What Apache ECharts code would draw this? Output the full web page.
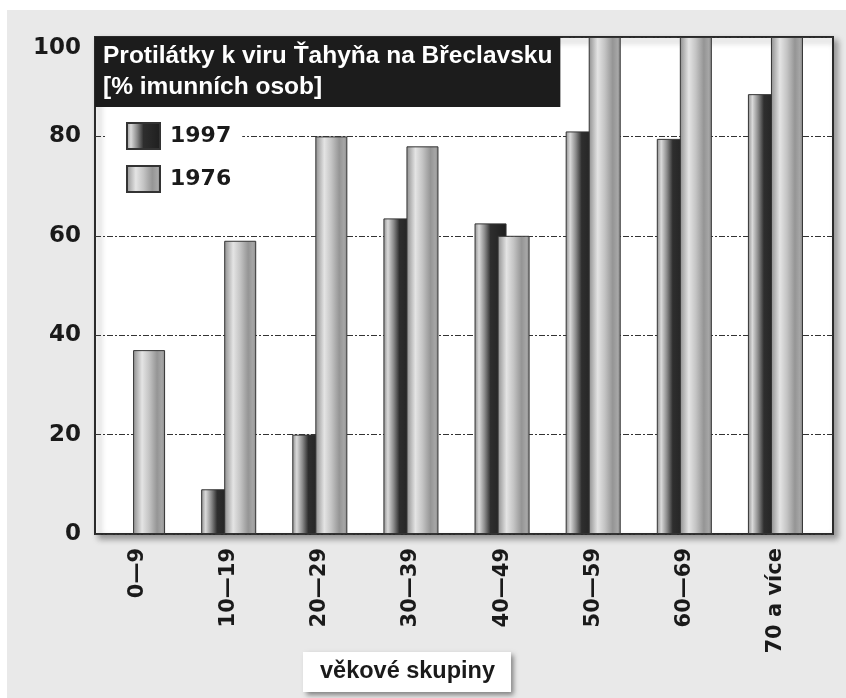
<!DOCTYPE html>
<html>
<head>
<meta charset="utf-8">
<script src="https://cdn.jsdelivr.net/npm/echarts@6/dist/echarts.min.js"></script>
<style>
  html, body { margin: 0; padding: 0; background: #fff; }
  #main { width: 846px; height: 698px; }
</style>
</head>
<body>
<div id="main"></div>
<script>
// data
var skupiny = ['0—9', '10—19', '20—29', '30—39', '40—49', '50—59', '60—69', '70 a více'];
var rok1997 = [null, 9, 20, 63.5, 62.5, 81, 79.5, 88.5];
var rok1976 = [37, 59, 80, 78, 60, 100, 100, 100];
var yTicks = [0, 20, 40, 60, 80, 100];

var narrow = '"Liberation Sans", Arial, sans-serif';
var wide = '"DejaVu Sans", sans-serif';

// horizontal gradients imitating the cylinder look
var svetla = new echarts.graphic.LinearGradient(0, 0, 1, 0, [
    { offset: 0, color: '#8e8e8e' },
    { offset: 0.28, color: '#e4e4e4' },
    { offset: 0.5, color: '#c4c4c4' },
    { offset: 0.75, color: '#959595' },
    { offset: 0.9, color: '#a6a6a6' },
    { offset: 1, color: '#8a8a8a' }
]);
var tmava = new echarts.graphic.LinearGradient(0, 0, 1, 0, [
    { offset: 0, color: '#8c8c8c' },
    { offset: 0.14, color: '#dadada' },
    { offset: 0.32, color: '#8a8a8a' },
    { offset: 0.5, color: '#2e2e2e' },
    { offset: 1, color: '#1e1e1e' }
]);

var myChart = echarts.init(document.getElementById('main'));

var option = {
    backgroundColor: '#fff',
    animation: false,
    graphic: [{
        type: 'rect',
        z: -10,
        shape: { x: 7, y: 10, width: 839, height: 688 },
        style: { fill: '#e9e9e9' }
    }],
    title: [{
        text: 'Protilátky k viru Ťahyňa na Břeclavsku\n[% imunních osob]',
        left: 95,
        top: 37,
        backgroundColor: '#1c1c1c',
        padding: [4, 8, 4, 8],
        textStyle: {
            color: '#fff',
            fontFamily: narrow,
            fontWeight: 'bold',
            fontSize: 24.5,
            lineHeight: 31
        }
    }, {
        text: 'věkové skupiny',
        left: 303,
        top: 652,
        backgroundColor: '#fff',
        padding: [8, 16, 8, 17],
        shadowColor: 'rgba(0,0,0,0.45)',
        shadowBlur: 5,
        shadowOffsetX: 3,
        shadowOffsetY: 3,
        textStyle: {
            color: '#1a1a1a',
            fontFamily: narrow,
            fontWeight: 'bold',
            fontSize: 23.5
        }
    }],
    legend: {
        data: ['1997', '1976'],
        orient: 'vertical',
        left: 107,
        top: 108,
        backgroundColor: '#fff',
        padding: [14, 11, 10, 19],
        icon: 'rect',
        itemWidth: 33,
        itemHeight: 26,
        itemGap: 15,
        textStyle: {
            color: '#1a1a1a',
            fontFamily: wide,
            fontWeight: 'bold',
            fontSize: 22,
            padding: [0, 0, 0, 5]
        }
    },
    grid: [{
        // white plot with frame and shadow, carries the y scale
        left: 95, top: 37, width: 738, height: 497,
        show: true,
        backgroundColor: '#fff',
        borderColor: '#2a2a2a',
        borderWidth: 2,
        shadowColor: 'rgba(0,0,0,0.35)',
        shadowBlur: 6,
        shadowOffsetX: 4,
        shadowOffsetY: 4
    }, {
        // categories only, a bit narrower than the frame
        left: 92, top: 37, width: 729, height: 497,
        show: false
    }],
    xAxis: [{
        gridIndex: 0,
        type: 'value',
        show: false
    }, {
        gridIndex: 1,
        type: 'category',
        data: skupiny,
        axisLine: { show: false },
        axisTick: { show: false },
        axisLabel: {
            rotate: 90,
            margin: 14,
            color: '#1a1a1a',
            fontFamily: wide,
            fontWeight: 'bold',
            fontSize: 21
        }
    }],
    yAxis: [{
        gridIndex: 0,
        type: 'value',
        min: yTicks[0],
        max: yTicks[yTicks.length - 1],
        interval: yTicks[1] - yTicks[0],
        axisLine: { show: false },
        axisTick: { show: false },
        axisLabel: {
            margin: 14,
            color: '#1a1a1a',
            fontFamily: wide,
            fontWeight: 'bold',
            fontSize: 23,
            verticalAlignMaxLabel: 'top'
        },
        splitLine: {
            lineStyle: { color: '#333', width: 1.2, type: [6, 2, 2, 2] }
        }
    }, {
        gridIndex: 1,
        type: 'value',
        min: yTicks[0],
        max: yTicks[yTicks.length - 1],
        show: false
    }],
    series: [{
        name: '1997',
        type: 'bar',
        xAxisIndex: 1,
        yAxisIndex: 1,
        barWidth: 32,
        barGap: '-28%',
        data: rok1997,
        itemStyle: { color: tmava, borderColor: '#333', borderWidth: 1 }
    }, {
        name: '1976',
        type: 'bar',
        xAxisIndex: 1,
        yAxisIndex: 1,
        barWidth: 32,
        barGap: '-28%',
        data: rok1976,
        itemStyle: { color: svetla, borderColor: '#333', borderWidth: 1 }
    }]
};

myChart.setOption(option);
</script>
</body>
</html>
